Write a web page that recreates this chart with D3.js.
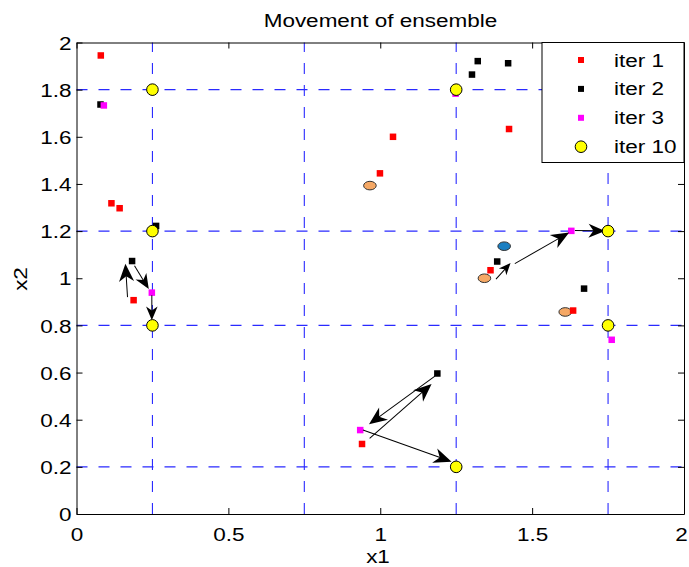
<!DOCTYPE html>
<html>
<head>
<meta charset="utf-8">
<script src="https://cdn.jsdelivr.net/npm/d3@7"></script>
<style>
  body { margin: 0; background: #fff; }
  text { font-family: "Liberation Sans", Arial, sans-serif; fill: #000; }
</style>
</head>
<body>
<svg id="chart" width="689" height="567"></svg>
<script>
// ensemble positions per iteration
var iter1X = [0.08, 0.115, 0.142, 0.188, 0.999, 1.042, 1.424, 1.363, 1.635, 0.94];
var iter1Y = [1.945, 1.318, 1.297, 0.907, 1.445, 1.6, 1.633, 1.034, 0.863, 0.297];
var iter2X = [0.079, 0.262, 0.183, 1.321, 1.302, 1.421, 1.385, 1.671, 1.188];
var iter2Y = [1.737, 1.222, 1.073, 1.921, 1.864, 1.912, 1.071, 0.956, 0.596];
var iter3X = [0.09, 0.248, 1.248, 1.629, 1.762, 0.934];
var iter3Y = [1.733, 0.939, 1.783, 1.201, 0.739, 0.356];
var iter10X = [0.25, 1.25, 0.25, 0.25, 1.75, 1.75, 1.25];
var iter10Y = [1.8, 1.8, 1.2, 0.8, 1.2, 0.8, 0.2];

// extra ellipses (no legend entry)
var orangeX = [0.966, 1.343, 1.609];
var orangeY = [1.393, 1.0, 0.857];
var blueX = [1.408];
var blueY = [1.136];

// arrows
var arrowX0 = [0.168, 0.191, 0.248, 0.965, 1.180, 0.943, 1.381, 1.443, 1.641];
var arrowY0 = [0.92, 1.053, 0.928, 0.321, 0.585, 0.356, 0.996, 1.062, 1.203];
var arrowX1 = [0.161, 0.238, 0.248, 1.169, 0.963, 1.235, 1.429, 1.622, 1.740];
var arrowY1 = [1.062, 0.954, 0.822, 0.551, 0.381, 0.222, 1.065, 1.194, 1.200];

var gridX = [0.25, 0.75, 1.25, 1.75];
var gridY = [0.2, 0.8, 1.2, 1.8];

var xTicks = [0, 0.5, 1, 1.5, 2];
var xTickLabels = ["0", "0.5", "1", "1.5", "2"];
var yTicks = [0, 0.2, 0.4, 0.6, 0.8, 1, 1.2, 1.4, 1.6, 1.8, 2];
var yTickLabels = ["0", "0.2", "0.4", "0.6", "0.8", "1", "1.2", "1.4", "1.6", "1.8", "2"];

var legendNames = ["iter 1", "iter 2", "iter 3", "iter 10"];

var pLeft = 76.5, pRight = 684, pTop = 42.5, pBottom = 514;
var fs = 18, stretch = 1.25;

var svg = d3.select("#chart");

var x = d3.scaleLinear().domain([0, 2]).range([pLeft, pRight]);
var y = d3.scaleLinear().domain([0, 2]).range([pBottom, pTop]);

function pts(xs, ys) {
  return xs.map(function(d, i) { return [d, ys[i]]; });
}

// grid
svg.append("g").selectAll("line").data(gridX).enter().append("line")
  .attr("x1", function(d) { return x(d); }).attr("x2", function(d) { return x(d); })
  .attr("y1", pBottom).attr("y2", pTop)
  .attr("stroke", "#2a2aff").attr("stroke-width", 1.1).attr("stroke-dasharray", "11,11");
svg.append("g").selectAll("line").data(gridY).enter().append("line")
  .attr("y1", function(d) { return y(d); }).attr("y2", function(d) { return y(d); })
  .attr("x1", pLeft).attr("x2", pRight)
  .attr("stroke", "#2a2aff").attr("stroke-width", 1.1).attr("stroke-dasharray", "11,11");

// axes
var xAxis = d3.axisBottom(x).tickValues(xTicks)
  .tickFormat(function(d, i) { return xTickLabels[i]; })
  .tickSizeInner(-6).tickSizeOuter(0).tickPadding(14.7);
var gx = svg.append("g").attr("transform", "translate(0," + pBottom + ")").call(xAxis);
gx.selectAll("text").attr("font-size", fs).attr("transform", "scale(" + stretch + ",1)");
// keep the last label inside the window
gx.selectAll("text").filter(function(d) { return d === 2; }).attr("x", -2.4);

var yAxis = d3.axisLeft(y).tickValues(yTicks)
  .tickFormat(function(d, i) { return yTickLabels[i]; })
  .tickSizeInner(-6).tickSizeOuter(0);
var gy = svg.append("g").attr("transform", "translate(" + pLeft + ",0)").call(yAxis);
gy.selectAll("text").attr("font-size", fs).attr("x", -4).attr("dy", "0.37em")
  .attr("transform", "scale(" + stretch + ",1)");

svg.append("g").attr("transform", "translate(0," + pTop + ")")
  .call(d3.axisTop(x).tickValues(xTicks).tickFormat("").tickSizeInner(-6).tickSizeOuter(0));
svg.append("g").attr("transform", "translate(" + pRight + ",0)")
  .call(d3.axisRight(y).tickValues(yTicks).tickFormat("").tickSizeInner(-6).tickSizeOuter(0));

svg.selectAll(".domain").attr("stroke", "#000").attr("stroke-width", 1);
svg.selectAll(".tick line").attr("stroke", "#000");

// ellipses
function ellipses(data, fill) {
  svg.append("g").selectAll("ellipse").data(data).enter().append("ellipse")
    .attr("cx", function(d) { return x(d[0]); })
    .attr("cy", function(d) { return y(d[1]); })
    .attr("rx", 6.3).attr("ry", 4.3)
    .attr("fill", fill).attr("stroke", "#333").attr("stroke-width", 1);
}
ellipses(pts(orangeX, orangeY), "#f5a865");
ellipses(pts(blueX, blueY), "#1b7fc2");

// square markers
function squares(data, fill) {
  var s = 6.5;
  svg.append("g").selectAll("rect").data(data).enter().append("rect")
    .attr("x", function(d) { return x(d[0]) - s / 2; })
    .attr("y", function(d) { return y(d[1]) - s / 2; })
    .attr("width", s).attr("height", s).attr("fill", fill);
}
squares(pts(iter1X, iter1Y), "#ff0000");
squares(pts(iter2X, iter2Y), "#000000");
squares(pts(iter3X, iter3Y), "#ff00ff");

// arrows
var arrows = arrowX0.map(function(d, i) {
  return { x0: x(d), y0: y(arrowY0[i]), x1: x(arrowX1[i]), y1: y(arrowY1[i]) };
});
var ga = svg.append("g");
arrows.forEach(function(a) {
  var dx = a.x1 - a.x0, dy = a.y1 - a.y0;
  var len = Math.sqrt(dx * dx + dy * dy);
  var L = Math.min(18, len * 0.55), W = L * 0.42;
  var ang = Math.atan2(dy, dx) * 180 / Math.PI;
  var g = ga.append("g").attr("transform", "translate(" + a.x0 + "," + a.y0 + ") rotate(" + ang + ")");
  g.append("line").attr("x1", 0).attr("y1", 0).attr("x2", len - L * 0.6).attr("y2", 0)
    .attr("stroke", "#000").attr("stroke-width", 1);
  g.append("path")
    .attr("d", "M" + len + ",0L" + (len - L) + "," + (-W) + "L" + (len - L * 0.7) + ",0L" + (len - L) + "," + W + "Z")
    .attr("fill", "#000");
});

// iter 10 circles
svg.append("g").selectAll("circle").data(pts(iter10X, iter10Y)).enter().append("circle")
  .attr("cx", function(d) { return x(d[0]); })
  .attr("cy", function(d) { return y(d[1]); })
  .attr("r", 5.8).attr("fill", "#ffff00").attr("stroke", "#000").attr("stroke-width", 1);

// legend
var lg = svg.append("g");
lg.append("rect").attr("x", 542).attr("y", pTop).attr("width", pRight - 542).attr("height", 120)
  .attr("fill", "#fff").attr("stroke", "#000").attr("stroke-width", 1);
var legendColors = ["#ff0000", "#000000", "#ff00ff", "#ffff00"];
legendNames.forEach(function(name, i) {
  var cy = 60 + i * 28.9;
  if (i < 3) {
    lg.append("rect").attr("x", 578).attr("y", cy - 3).attr("width", 6).attr("height", 6)
      .attr("fill", legendColors[i]);
  } else {
    lg.append("circle").attr("cx", 581).attr("cy", cy).attr("r", 5.8)
      .attr("fill", legendColors[i]).attr("stroke", "#000");
  }
  lg.append("text").attr("transform", "translate(614," + (cy + 6.5) + ") scale(" + stretch + ",1)")
    .attr("font-size", fs).text(name);
});

// titles
svg.append("text").attr("transform", "translate(380.5,27) scale(" + stretch + ",1)")
  .attr("text-anchor", "middle").attr("font-size", fs).text("Movement of ensemble");
svg.append("text").attr("transform", "translate(378,563) scale(" + stretch + ",1)")
  .attr("text-anchor", "middle").attr("font-size", fs).text("x1");
svg.append("text").attr("transform", "translate(26.5,279) rotate(-90) scale(" + stretch + ",1)")
  .attr("text-anchor", "middle").attr("font-size", fs).text("x2");
</script>
</body>
</html>
